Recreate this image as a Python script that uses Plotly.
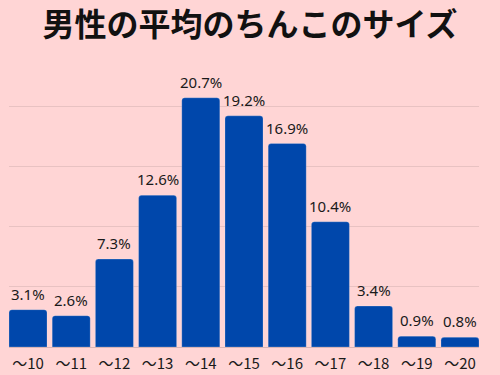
import plotly.graph_objects as go

categories = ["〜10", "〜11", "〜12", "〜13", "〜14", "〜15", "〜16", "〜17", "〜18", "〜19", "〜20"]
values = [3.1, 2.6, 7.3, 12.6, 20.7, 19.2, 16.9, 10.4, 3.4, 0.9, 0.8]
labels = ["3.1%", "2.6%", "7.3%", "12.6%", "20.7%", "19.2%", "16.9%", "10.4%", "3.4%", "0.9%", "0.8%"]
title_text = "男性の平均のちんこのサイズ"

bg = "#FFD5D5"
bar_color = "#0047AB"

fig = go.Figure(go.Bar(
    x=list(range(len(categories))), y=values,
    marker=dict(color=bar_color, line=dict(color="rgba(255,255,255,0.35)", width=0.6)),
    hoverinfo="skip",
))

for i, (v, t) in enumerate(zip(values, labels)):
    fig.add_annotation(x=i, y=v, text=t, showarrow=False, yanchor="bottom",
                       yshift=4, font=dict(family="Noto Sans", size=15, color="#1a1a1a"))

fig.update_layout(
    width=500, height=375,
    paper_bgcolor=bg, plot_bgcolor=bg,
    margin=dict(l=9, r=21, t=46, b=28, autoexpand=False),
    bargap=0.12,
    barcornerradius=3,
    showlegend=False,
    title=dict(text="<b>" + title_text + "</b>", x=0.5, xref="container", xanchor="center",
               y=0.935, yanchor="middle",
               font=dict(family="Noto Sans CJK JP", size=32, color="#111111")),
    xaxis=dict(
        range=[-0.44, len(categories) - 0.56],
        tickmode="array", tickvals=list(range(len(categories))), ticktext=categories,
        tickfont=dict(family="Noto Sans CJK JP, Noto Sans", size=15, color="#1a1a1a"),
        ticklabelstandoff=6,
        showgrid=False, zeroline=False, showline=False, ticks="",
        automargin=False,
    ),
    yaxis=dict(
        range=[0, 25], dtick=5, showticklabels=False,
        gridcolor="#E8C2C2", gridwidth=1,
        zeroline=True, zerolinecolor="#D9B5B5", zerolinewidth=1,
        showline=False, ticks="", automargin=False,
    ),
)

fig.write_html("out.html", config={"displayModeBar": False},
               post_script="document.body.style.margin='0';document.body.style.background='%s';" % bg)
